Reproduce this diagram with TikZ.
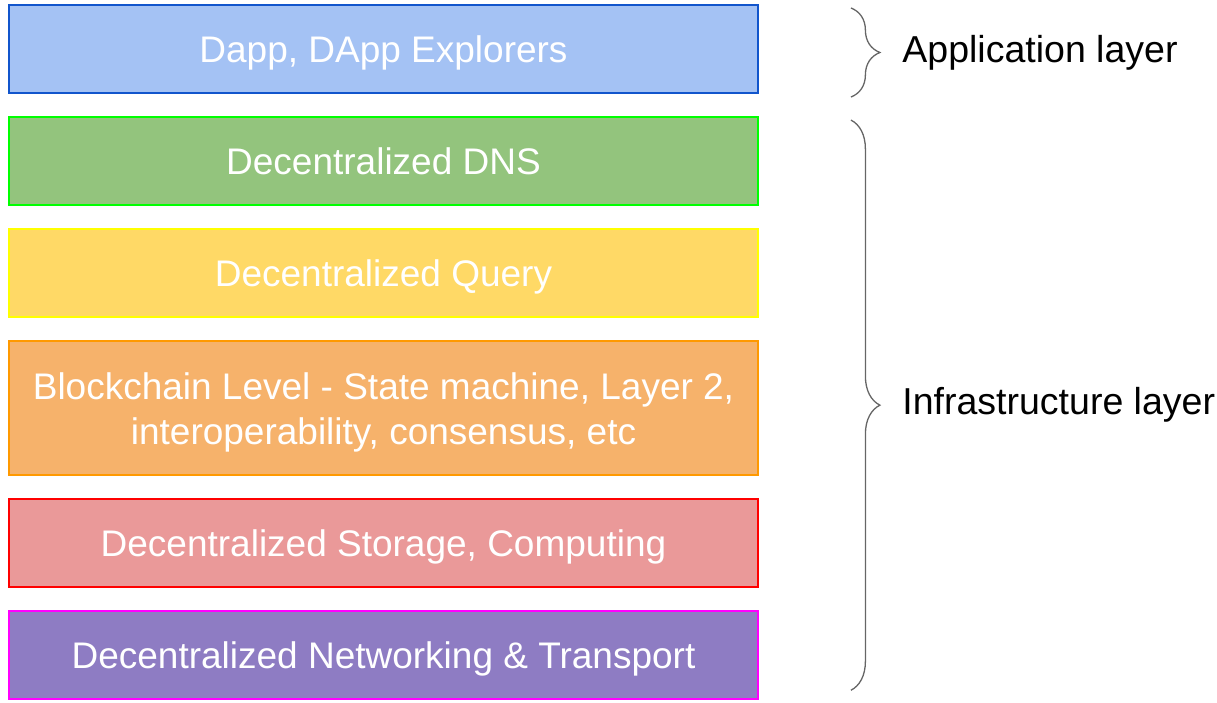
\documentclass[tikz,border=0pt]{standalone}
\usepackage{fontspec}
\setmainfont{Liberation Sans}
\usetikzlibrary{positioning,calc,decorations.pathreplacing}

\definecolor{appline}{HTML}{1155CC}
\definecolor{appfill}{HTML}{A4C2F4}
\definecolor{dnsline}{HTML}{00FF00}
\definecolor{dnsfill}{HTML}{93C47D}
\definecolor{qryline}{HTML}{FFFF00}
\definecolor{qryfill}{HTML}{FFD966}
\definecolor{bcline}{HTML}{FF9900}
\definecolor{bcfill}{HTML}{F6B26B}
\definecolor{stoline}{HTML}{FF0000}
\definecolor{stofill}{HTML}{EA9999}
\definecolor{netline}{HTML}{FF00FF}
\definecolor{netfill}{HTML}{8E7CC3}
\definecolor{braceline}{HTML}{666666}

\begin{document}
\begin{tikzpicture}[x=1pt, y=-1pt, node distance=22pt,
  layer/.style={draw, line width=1.8pt, minimum width=749pt, minimum height=88.3pt, inner sep=0pt,
    text depth=0pt, text=white, align=center, font=\fontsize{37}{45}\selectfont},
  lbl/.style={anchor=west, font=\fontsize{37.5}{43}\selectfont},
  curly/.style={draw=braceline, line width=1.3pt, decorate, decoration={brace, amplitude=29pt}}]

  \useasboundingbox (0,0) rectangle (1217,702);

  % Layer stack
  \node[layer, draw=appline, fill=appfill] (app) at (383.5,49) {Dapp, DApp Explorers};
  \node[layer, draw=dnsline, fill=dnsfill, below=of app] (dns) {Decentralized DNS};
  \node[layer, draw=qryline, fill=qryfill, below=of dns] (qry) {Decentralized Query};
  \node[layer, draw=bcline, fill=bcfill, minimum height=134pt, below=of qry] (bc)
    {Blockchain Level - State machine, Layer 2,\\interoperability, consensus, etc};
  \node[layer, draw=stoline, fill=stofill, below=of bc] (sto) {Decentralized Storage, Computing};
  \node[layer, draw=netline, fill=netfill, below=of sto] (net) {Decentralized Networking \& Transport};

  % Braces
  \coordinate (A1) at ($(app.north east)+(92,4)$);
  \coordinate (A2) at ($(app.south east)+(92,3)$);
  \coordinate (I1) at ($(dns.north east)+(92,4)$);
  \coordinate (I2) at ($(net.south east)+(92,-10)$);
  \draw[curly] (A1) -- (A2);
  \draw[curly] (I1) -- (I2);

  % Labels
  \node[lbl] (applbl) at ($(A1)!0.5!(A2)+(48,0)$) {Application layer};
  \node[lbl] (infralbl) at ($(I1)!0.5!(I2)+(48,0)$) {Infrastructure layer};

\end{tikzpicture}
\end{document}
